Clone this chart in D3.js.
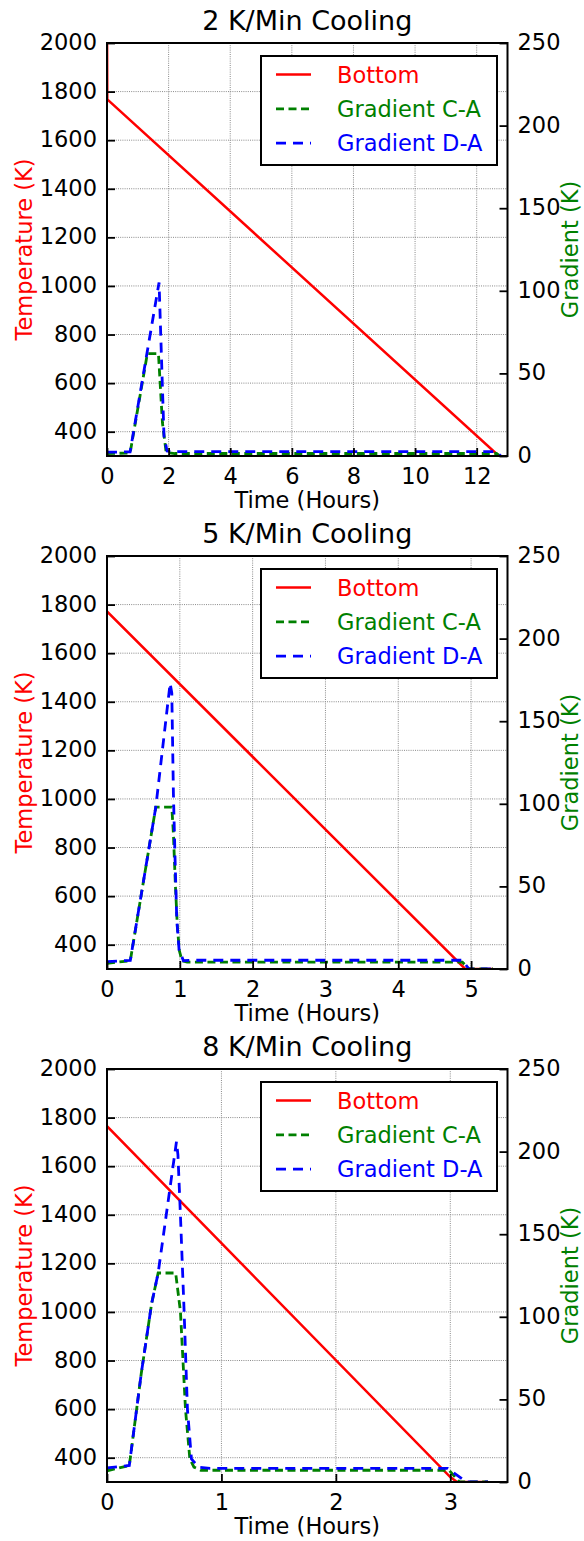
<!DOCTYPE html>
<html>
<head>
<meta charset="utf-8">
<script src="https://cdn.jsdelivr.net/npm/d3@7"></script>
<style>
body { margin: 0; background: #fff; }
svg text { font-family: "DejaVu Sans", sans-serif; }
</style>
</head>
<body>
<script>
"use strict"

// chart texts and ticks
const titles = ['2 K/Min Cooling', '5 K/Min Cooling', '8 K/Min Cooling'];
const legendNames = ['Bottom', 'Gradient C-A', 'Gradient D-A'];
const xMaxes = [13, 5.5, 3.5];
const xTicks = [[0, 2, 4, 6, 8, 10, 12], [0, 1, 2, 3, 4, 5], [0, 1, 2, 3]];
const tempTicks = [400, 600, 800, 1000, 1200, 1400, 1600, 1800, 2000];
const gradTicks = [0, 50, 100, 150, 200, 250];

// 2 K/min
const bottomTime1 = [0, 0.01, 12.72];
const bottomTemp1 = [2100, 1768, 300];
const caTime1 = [0, 0.75, 1.31, 1.67, 1.80, 1.92, 2.2, 12.64, 12.75];
const caGrad1 = [1.5, 1.8, 62, 62, 20, 2.2, 1.5, 1.5, 0];
const daTime1 = [0, 0.75, 1.69, 1.85, 1.95, 2.2, 12.64, 12.78];
const daGrad1 = [2.3, 2.5, 105, 12, 3, 2.6, 2.6, 0];

// 5 K/min
const bottomTime2 = [0, 4.92, 5.3];
const bottomTemp2 = [1772, 300, 300];
const caTime2 = [0, 0.32, 0.67, 0.89, 0.912, 0.94, 0.967, 0.994, 1.03, 1.1, 4.88, 4.97, 5.3];
const caGrad2 = [3.4, 5, 98, 98, 82, 50, 25, 11, 5, 4.2, 4.2, 0, 0];
const daTime2 = [0, 0.32, 0.67, 0.867, 0.89, 0.912, 0.935, 0.958, 0.99, 1.05, 1.2, 4.88, 4.97, 5.3];
const daGrad2 = [4.5, 5.2, 98, 173, 167, 106, 66, 30, 11.5, 5, 5.3, 5.3, 0, 0];

// 8 K/min
const bottomTime3 = [0, 3.0, 3.06, 3.33];
const bottomTemp3 = [1765, 320, 300, 300];
const caTime3 = [0, 0.195, 0.30, 0.39, 0.447, 0.60, 0.642, 0.686, 0.724, 0.76, 0.82, 2.99, 3.08, 3.33];
const caGrad3 = [6.8, 10, 66, 108, 126.5, 126.5, 103, 44, 14, 9, 7.1, 7.1, 0, 0];
const daTime3 = [0, 0.195, 0.30, 0.39, 0.447, 0.607, 0.62, 0.642, 0.674, 0.703, 0.738, 0.80, 0.9, 2.976, 3.14, 3.33];
const daGrad3 = [8.5, 10, 66, 108, 126.5, 206, 198, 161, 103, 44, 14, 9, 8.3, 8.3, 0, 0];

const zip = (t, v) => t.map((d, i) => [d, v[i]]);

const panels = [
	{bottom: zip(bottomTime1, bottomTemp1), ca: zip(caTime1, caGrad1), da: zip(daTime1, daGrad1)},
	{bottom: zip(bottomTime2, bottomTemp2), ca: zip(caTime2, caGrad2), da: zip(daTime2, daGrad2)},
	{bottom: zip(bottomTime3, bottomTemp3), ca: zip(caTime3, caGrad3), da: zip(daTime3, daGrad3)}
];

const w = 584;
const h = 1541;
const padLeft = 107;
const padRight = 507.5;
const padTop = 43;
const plotH = 413;
const step = 513;
const fs = 22.5;

const colors = {bottom: '#ff0000', ca: '#008000', da: '#0000ff'};
const widths = {bottom: 2.5, ca: 2.8, da: 2.8};
const dashes = {bottom: null, ca: '8,4.5', da: '10,7'};

const mySvg = d3.select('body')
	.append('svg')
	.attr('width', w)
	.attr('height', h);

panels.forEach((p, i) => drawPanel(p, i));

function drawPanel(p, i) {
	const g = mySvg.append('g')
		.attr('transform', 'translate(0,' + (i * step) + ')');
	const bottomY = padTop + plotH;

	const xScale = d3.scaleLinear().domain([0, xMaxes[i]]).range([padLeft, padRight]);
	const yTemp = d3.scaleLinear().domain([300, 2000]).range([bottomY, padTop]);
	const yGrad = d3.scaleLinear().domain([0, 250]).range([bottomY, padTop]);

	g.append('clipPath')
		.attr('id', 'clip' + i)
		.append('rect')
		.attr('x', padLeft)
		.attr('y', padTop)
		.attr('width', padRight - padLeft)
		.attr('height', plotH);

	// grid
	g.append('g')
		.selectAll('line')
		.data(xTicks[i])
		.enter()
		.append('line')
		.attr('x1', d => xScale(d))
		.attr('x2', d => xScale(d))
		.attr('y1', padTop)
		.attr('y2', bottomY)
		.attr('stroke', '#8a8a8a')
		.attr('stroke-width', 1)
		.attr('stroke-dasharray', '1,1.2');
	g.append('g')
		.selectAll('line')
		.data(tempTicks)
		.enter()
		.append('line')
		.attr('x1', padLeft)
		.attr('x2', padRight)
		.attr('y1', d => yTemp(d))
		.attr('y2', d => yTemp(d))
		.attr('stroke', '#8a8a8a')
		.attr('stroke-width', 1)
		.attr('stroke-dasharray', '1,1.2');

	// lines
	const lineT = d3.line().x(d => xScale(d[0])).y(d => yTemp(d[1]));
	const lineG = d3.line().x(d => xScale(d[0])).y(d => yGrad(d[1]));
	const plot = g.append('g').attr('clip-path', 'url(#clip' + i + ')');
	[['bottom', lineT], ['ca', lineG], ['da', lineG]].forEach(([k, fn]) => {
		plot.append('path')
			.attr('d', fn(p[k]))
			.attr('fill', 'none')
			.attr('stroke', colors[k])
			.attr('stroke-width', widths[k])
			.attr('stroke-dasharray', dashes[k]);
	});

	// axes
	const fmt = d3.format('d');
	const xAxis = d3.axisBottom(xScale).tickValues(xTicks[i]).tickFormat(fmt).tickSizeInner(-8).tickSizeOuter(0).tickPadding(12);
	const yAxisL = d3.axisLeft(yTemp).tickValues(tempTicks).tickFormat(fmt).tickSizeInner(-8).tickSizeOuter(0).tickPadding(10);
	const yAxisR = d3.axisRight(yGrad).tickValues(gradTicks).tickFormat(fmt).tickSizeInner(-8).tickSizeOuter(0).tickPadding(10);

	const ax = g.append('g').attr('transform', 'translate(0,' + bottomY + ')').call(xAxis);
	const al = g.append('g').attr('transform', 'translate(' + padLeft + ',0)').call(yAxisL);
	const ar = g.append('g').attr('transform', 'translate(' + padRight + ',0)').call(yAxisR);
	[ax, al, ar].forEach(a => {
		a.select('.domain').remove();
		a.attr('font-size', null).attr('font-family', null);
		a.selectAll('line').attr('stroke', '#000').attr('stroke-width', 1.8);
		a.selectAll('text').attr('font-size', fs).attr('fill', '#000');
	});
	ax.selectAll('text').attr('dy', '0.71em');
	al.selectAll('text').attr('dy', '0.29em');
	ar.selectAll('text').attr('dy', '0.29em');

	// frame
	g.append('rect')
		.attr('x', padLeft)
		.attr('y', padTop)
		.attr('width', padRight - padLeft)
		.attr('height', plotH)
		.attr('fill', 'none')
		.attr('stroke', '#000')
		.attr('stroke-width', 2);

	// texts
	g.append('text')
		.attr('x', (padLeft + padRight) / 2)
		.attr('y', padTop - 13)
		.attr('text-anchor', 'middle')
		.attr('font-size', 27)
		.text(titles[i]);
	g.append('text')
		.attr('x', (padLeft + padRight) / 2)
		.attr('y', bottomY + 51.5)
		.attr('text-anchor', 'middle')
		.attr('font-size', fs)
		.text('Time (Hours)');
	g.append('text')
		.attr('transform', 'translate(32,' + (padTop + plotH / 2) + ') rotate(-90)')
		.attr('text-anchor', 'middle')
		.attr('font-size', fs)
		.attr('fill', colors.bottom)
		.text('Temperature (K)');
	g.append('text')
		.attr('transform', 'translate(578,' + (padTop + plotH / 2) + ') rotate(-90)')
		.attr('text-anchor', 'middle')
		.attr('font-size', fs)
		.attr('fill', colors.ca)
		.text('Gradient (K)');

	// legend
	const lg = g.append('g').attr('transform', 'translate(' + (padRight - 246.5) + ',' + (padTop + 13) + ')');
	lg.append('rect')
		.attr('width', 236)
		.attr('height', 109)
		.attr('fill', '#fff')
		.attr('stroke', '#000')
		.attr('stroke-width', 2);
	['bottom', 'ca', 'da'].forEach((k, j) => {
		const yb = 26.5 + j * 34.3;
		lg.append('line')
			.attr('x1', 15)
			.attr('x2', 50)
			.attr('y1', yb - 8)
			.attr('y2', yb - 8)
			.attr('stroke', colors[k])
			.attr('stroke-width', widths[k])
			.attr('stroke-dasharray', dashes[k]);
		lg.append('text')
			.attr('x', 76)
			.attr('y', yb)
			.attr('font-size', fs)
			.attr('fill', colors[k])
			.text(legendNames[j]);
	});
}
</script>
</body>
</html>
